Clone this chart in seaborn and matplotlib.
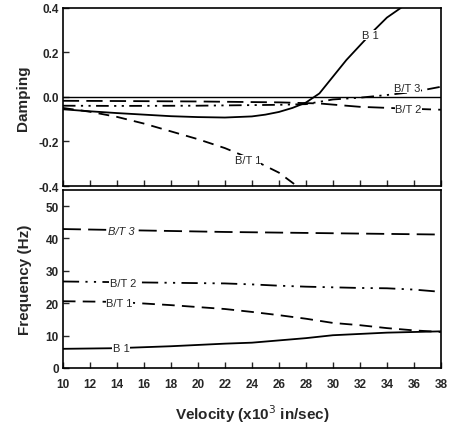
import matplotlib
matplotlib.use("Agg")
import matplotlib.pyplot as plt
import seaborn as sns
import numpy as np
import pandas as pd

# ---- Damping (top panel) ----
vel_b1_d = [10, 12, 14, 16, 18, 20, 22, 24, 25, 26, 27, 28, 29, 30, 31, 32, 33, 34, 35, 36]
b1_damp = [-0.056, -0.065, -0.073, -0.080, -0.087, -0.091, -0.093, -0.088, -0.080, -0.068,
           -0.050, -0.026, 0.015, 0.09, 0.165, 0.23, 0.295, 0.355, 0.397, 0.45]
vel_bt1_d = [10, 12, 14, 16, 18, 20, 22, 24, 26, 27, 28]
bt1_damp = [-0.050, -0.067, -0.090, -0.120, -0.155, -0.190, -0.230, -0.280, -0.340, -0.385, -0.43]
vel_bt2_d = [10, 14, 20, 26, 29, 32, 35, 38]
bt2_damp = [-0.018, -0.019, -0.021, -0.025, -0.030, -0.045, -0.052, -0.058]
vel_bt3_d = [10, 14, 20, 26, 28, 30, 32, 34, 36, 38]
bt3_damp = [-0.040, -0.041, -0.040, -0.036, -0.033, -0.012, -0.004, 0.008, 0.022, 0.045]

# ---- Frequency (bottom panel) ----
vel_f = [10, 14, 18, 22, 24, 26, 28, 30, 32, 34, 36, 38]
b1_freq = [5.9, 6.1, 6.7, 7.5, 7.8, 8.5, 9.2, 10.1, 10.5, 10.9, 11.1, 11.3]
bt1_freq = [20.6, 20.4, 19.4, 18.2, 17.3, 16.3, 15.2, 13.9, 13.2, 12.3, 11.6, 11.1]
bt2_freq = [26.7, 26.5, 26.3, 26.1, 25.8, 25.4, 25.1, 24.9, 24.7, 24.6, 24.2, 23.5]
bt3_freq = [42.9, 42.6, 42.3, 42.0, 41.9, 41.8, 41.7, 41.6, 41.5, 41.4, 41.3, 41.2]

damp_ticks = [-0.4, -0.2, 0.0, 0.2, 0.4]
damp_ticklabels = ["-0.4", "-0.2", "0.0", "0.2", "0.4"]
freq_ticks = [0, 10, 20, 30, 40, 50]
vel_ticks = list(range(10, 39, 2))

sns.set_style("ticks")
plt.rcParams['font.family'] = ['Liberation Sans', 'DejaVu Sans']

fig = plt.figure(figsize=(4.49, 4.27), dpi=100)
ax1 = fig.add_axes([0.140, 0.562, 0.842, 0.418])
ax2 = fig.add_axes([0.140, 0.136, 0.842, 0.417])

lw = 1.3
k = "black"

# top panel
ax1.axhline(0.0, color=k, lw=1.0)
sns.lineplot(x=vel_b1_d, y=b1_damp, ax=ax1, color=k, lw=lw, linestyle="-")
sns.lineplot(x=vel_bt1_d, y=bt1_damp, ax=ax1, color=k, lw=lw, linestyle=(0, (6, 4)))
sns.lineplot(x=vel_bt2_d, y=bt2_damp, ax=ax1, color=k, lw=lw, linestyle=(0, (9, 4)))
sns.lineplot(x=vel_bt3_d, y=bt3_damp, ax=ax1, color=k, lw=lw, linestyle=(0, (7, 3, 1.2, 3, 1.2, 3)))

# bottom panel
sns.lineplot(x=vel_f, y=b1_freq, ax=ax2, color=k, lw=lw, linestyle="-")
sns.lineplot(x=vel_f, y=bt1_freq, ax=ax2, color=k, lw=lw, linestyle=(0, (7, 4)))
sns.lineplot(x=vel_f, y=bt2_freq, ax=ax2, color=k, lw=lw, linestyle=(0, (9, 3.5, 1.2, 3.5, 1.2, 3.5)))
sns.lineplot(x=vel_f, y=bt3_freq, ax=ax2, color=k, lw=lw, linestyle=(0, (10, 4)))

for ax in (ax1, ax2):
    ax.set_xlim(10, 38)
    ax.set_xticks(vel_ticks)
    ax.tick_params(direction="in", length=4, width=1, top=False, right=False,
                   labelsize=8.5)
    ax.tick_params(axis="y", pad=3)
    ax.tick_params(axis="x", pad=7)
    for s in ax.spines.values():
        s.set_linewidth(1.2)
        s.set_color(k)

ax1.set_ylim(-0.4, 0.4)
ax1.set_yticks(damp_ticks)
ax1.set_yticklabels(damp_ticklabels, fontweight="bold")
ax1.set_xticklabels([])
ax1.set_ylabel("Damping", fontsize=11, fontweight="bold", labelpad=6)
ax1.set_xlabel("")

ax2.set_ylim(0, 55)
ax2.set_yticks(freq_ticks)
ax2.set_yticklabels([str(t) for t in freq_ticks], fontweight="bold")
ax2.set_xticklabels([str(t) for t in vel_ticks], fontweight="bold")
ax2.set_ylabel("Frequency (Hz)", fontsize=11, fontweight="bold", labelpad=10)
ax2.set_xlabel("Velocity (x10$^3$ in/sec)", fontsize=11, fontweight="bold", labelpad=9)

box = dict(facecolor="white", edgecolor="none", pad=0.3)
tk = dict(fontsize=8, ha="center", va="center", bbox=box, zorder=5)
ax1.text(32.8, 0.277, "B 1", **tk)
ax1.text(35.5, 0.040, "B/T 3", **tk)
ax1.text(35.6, -0.053, "B/T 2", **tk)
ax1.text(23.7, -0.285, "B/T 1", **tk)
ax2.text(14.3, 42.4, "B/T 3", style="italic", **tk)
ax2.text(14.45, 26.2, "B/T 2", **tk)
ax2.text(14.2, 20.2, "B/T 1", **tk)
ax2.text(14.3, 6.2, "B 1", **tk)

fig.savefig("out.png", dpi=100)
